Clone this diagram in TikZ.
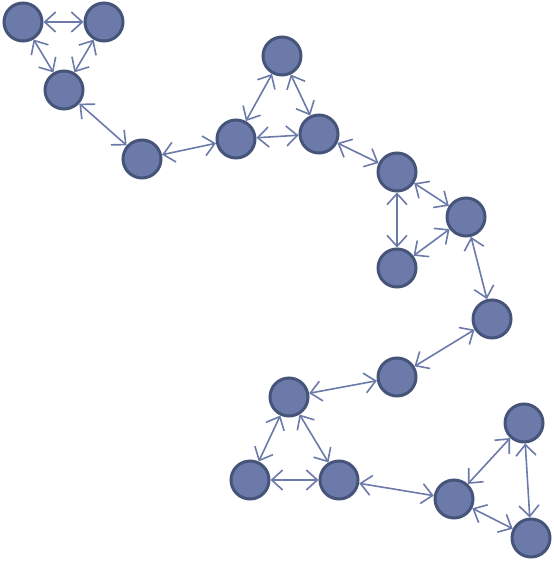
\documentclass[tikz,border=0pt]{standalone}
\usetikzlibrary{arrows.meta}
\definecolor{ballfill}{HTML}{6B7AA8}
\definecolor{ballline}{HTML}{46547A}
\tikzset{ball/.style={circle, fill=ballfill, draw=ballline, line width=3pt, minimum size=38pt, inner sep=0pt},
         link/.style={ballfill, line width=1.6pt, {Straight Barb[length=11pt,width=20pt]}-{Straight Barb[length=11pt,width=20pt]}}}
\begin{document}
\begin{tikzpicture}[x=1pt, y=-1pt]
      \useasboundingbox (0, 0) rectangle (553, 561);
      \node[ball] (a) at (23, 22) {};
      \node[ball] (b) at (104, 22) {};
      \node[ball] (c) at (64, 90) {};
      \node[ball] (d) at (142, 159) {};
      \node[ball] (e) at (236, 139) {};
      \node[ball] (f) at (282, 56) {};
      \node[ball] (g) at (319, 134) {};
      \node[ball] (h) at (397, 172) {};
      \node[ball] (i) at (466, 217) {};
      \node[ball] (j) at (397, 268) {};
      \node[ball] (k) at (492, 319) {};
      \node[ball] (l) at (397, 377) {};
      \node[ball] (m) at (289, 397) {};
      \node[ball] (n) at (250, 480) {};
      \node[ball] (o) at (339, 480) {};
      \node[ball] (p) at (454, 499) {};
      \node[ball] (q) at (524, 423) {};
      \node[ball] (r) at (531, 538) {};
      \draw[link] (a) edge (b) (a) edge (c) (b) edge (c) (c) edge (d)
                  (d) edge (e) (e) edge (f) (e) edge (g) (f) edge (g)
                  (g) edge (h) (h) edge (i) (h) edge (j) (i) edge (j)
                  (i) edge (k) (k) edge (l) (l) edge (m) (m) edge (n)
                  (m) edge (o) (n) edge (o) (o) edge (p) (p) edge (q)
                  (p) edge (r) (q) edge (r);
\end{tikzpicture}
\end{document}
